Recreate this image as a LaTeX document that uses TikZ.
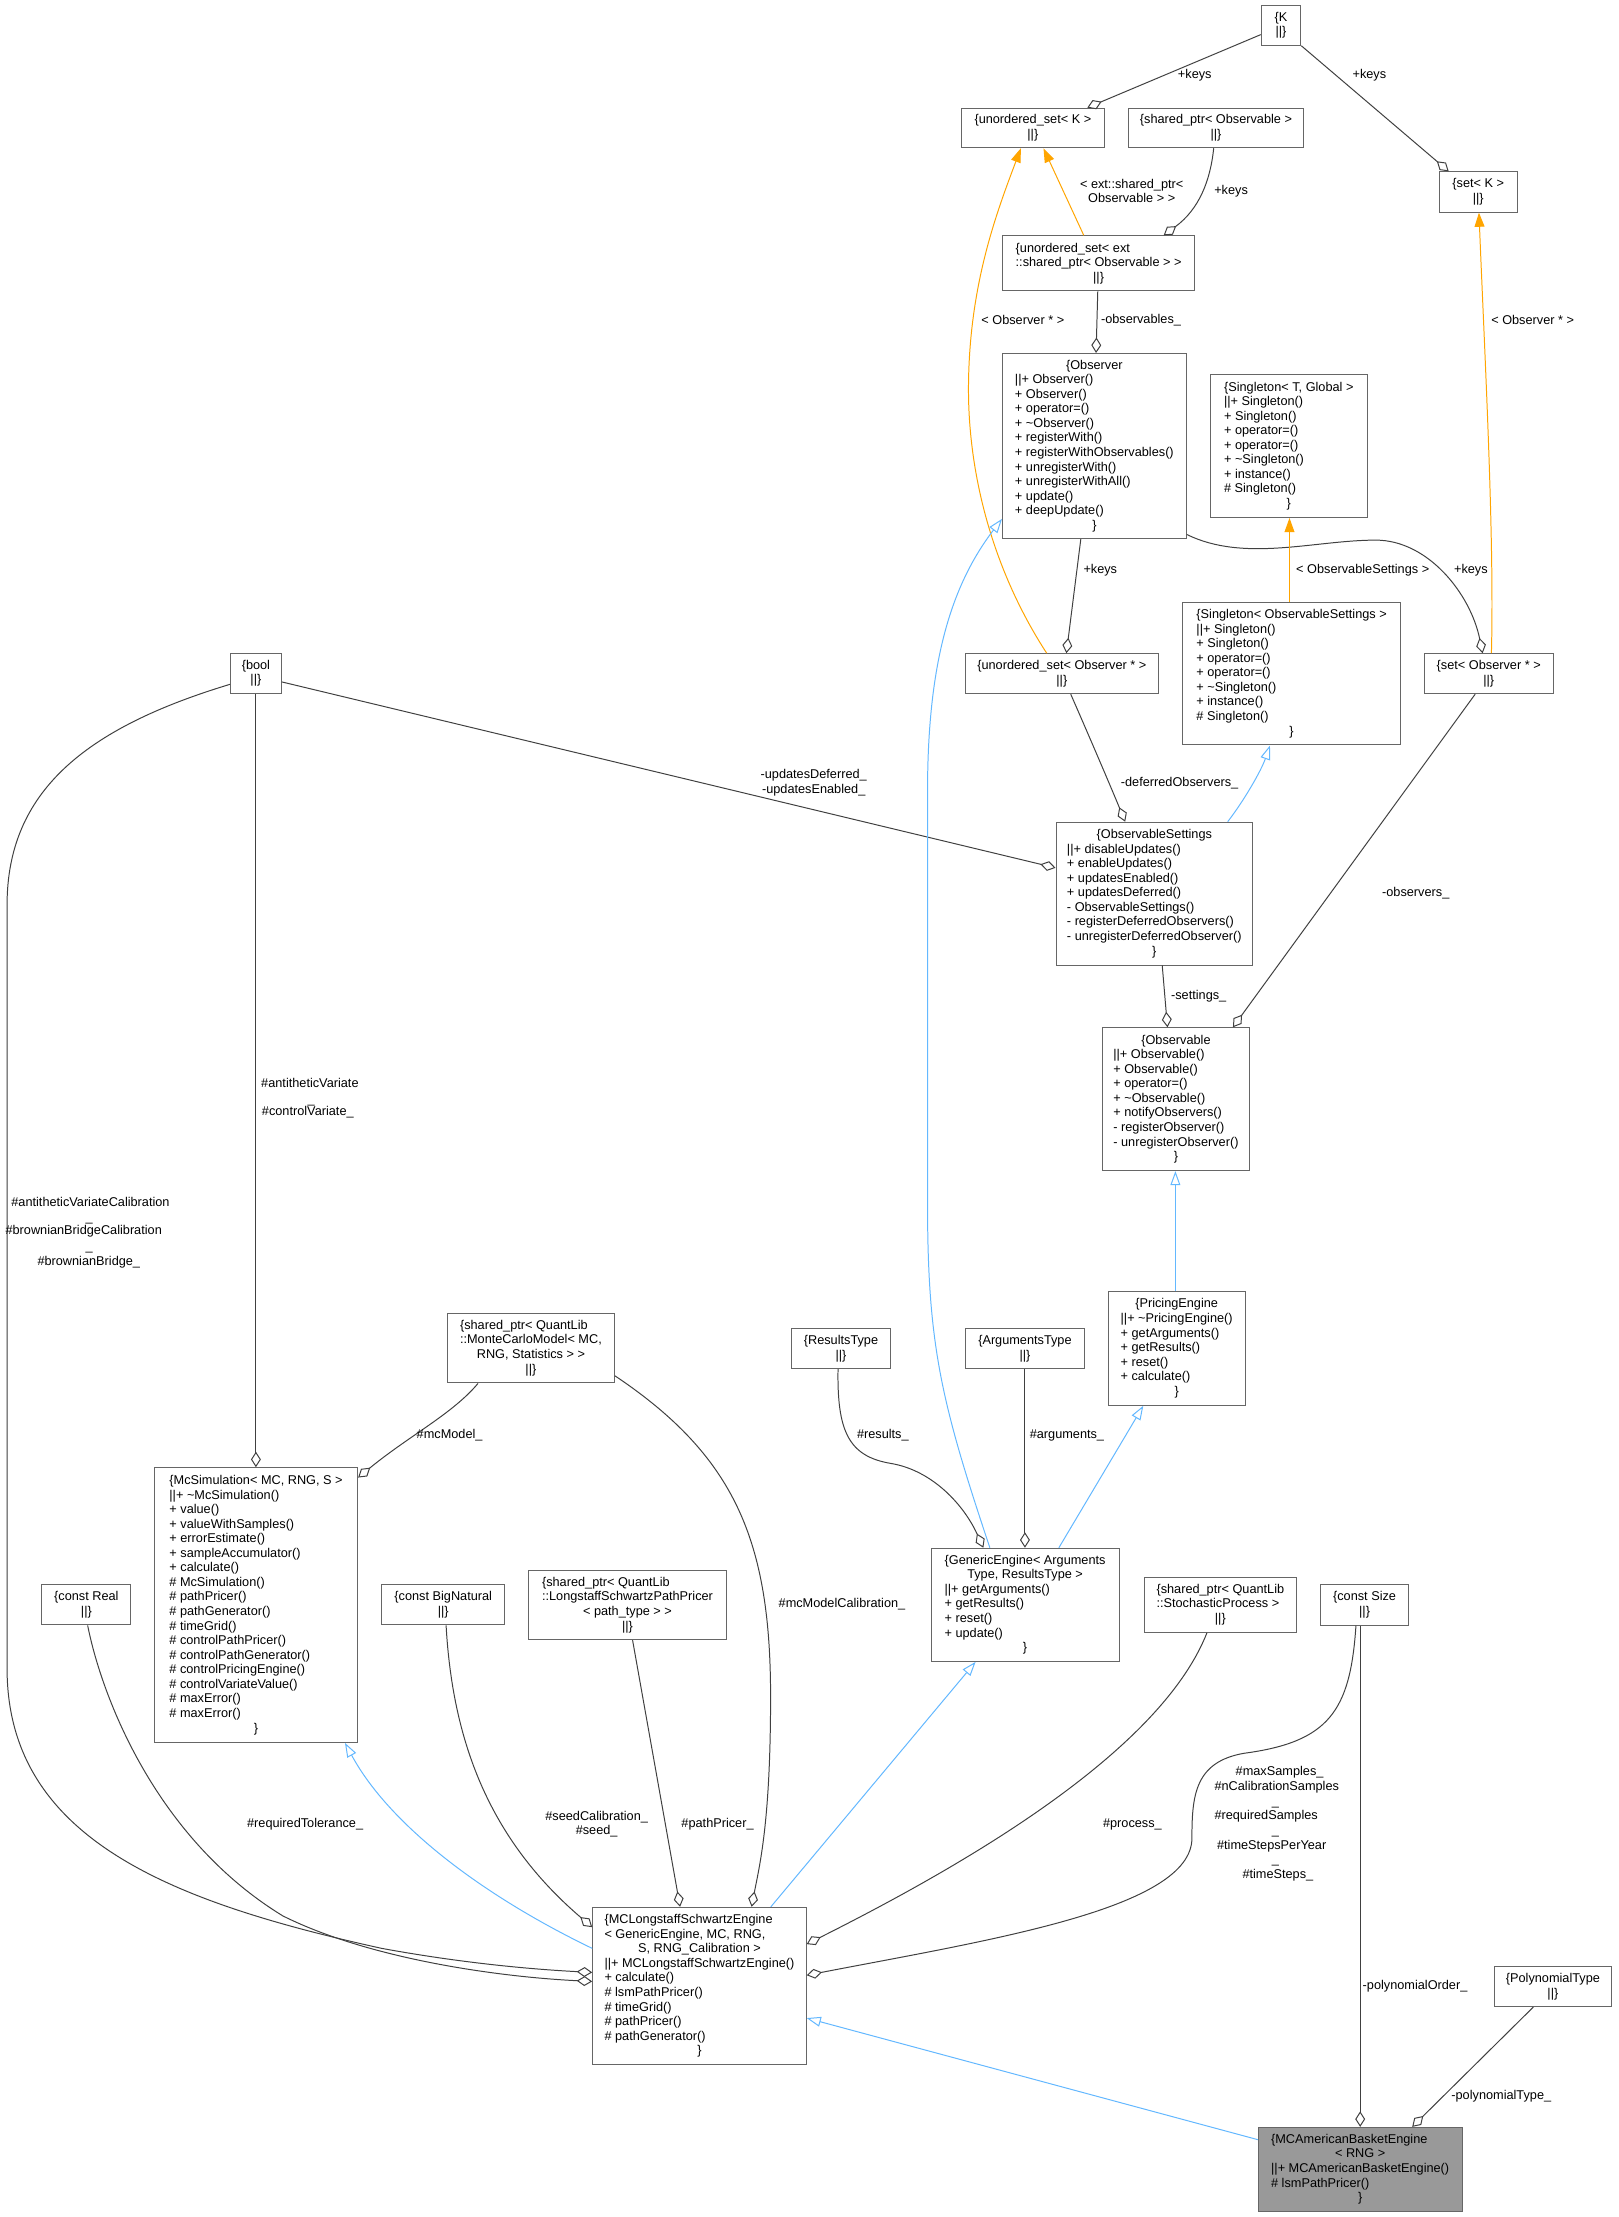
\documentclass[tikz,border=0pt]{standalone}
\usepackage{fontspec}
\setmainfont{Liberation Sans}
\usetikzlibrary{arrows.meta,calc}
\definecolor{dxgray}{HTML}{666666}
\definecolor{dxedge}{HTML}{404040}
\definecolor{dxblue}{HTML}{63B8FF}
\definecolor{dxorange}{HTML}{FFA500}
\definecolor{dxfill}{HTML}{999999}
\newcommand{\dxfont}{\fontsize{9}{10.3}\selectfont
  \setbox\strutbox\hbox{\vrule height 7.4pt depth 2.9pt width 0pt}}
\newcommand{\crow}[1]{\multicolumn{1}{@{}c@{}}{#1}}
\newcommand{\recl}[1]{\begin{tabular}{@{}l@{}}#1\end{tabular}}
\newcommand{\recc}[1]{\begin{tabular}{@{}c@{}}#1\end{tabular}}

\begin{document}
\begin{tikzpicture}[x=1pt, y=-1pt, font=\dxfont,
  cls/.style 2 args={draw=dxgray, line width=0.7pt, fill=white, inner sep=0pt,
    minimum width=#1pt, minimum height=#2pt},
  agg/.style={dxedge, line width=0.7pt, -{Diamond[open,length=11pt,width=7pt]}},
  inh/.style={dxblue, line width=0.7pt, -{Triangle[open,length=10pt,width=7pt]}},
  tpl/.style={dxorange, line width=0.7pt, -{Triangle[length=10pt,width=7pt]}},
  lbl/.style={inner sep=0pt, align=center}]
  \path[use as bounding box, fill=white] (0,0) rectangle (1145,1568);
  % class boxes, centre and size in px of the reference
  \node[cls={28}{28}] (kk) at (906,18) {\recc{\{K\\||\}}};
  \node[cls={101}{28}] (uK) at (730.5,90.5) {\recc{\{unordered\_set< K >\\||\}}};
  \node[cls={124}{28}] (spObs) at (860,90.5) {\recc{\{shared\_ptr< Observable >\\||\}}};
  \node[cls={55}{28.5}] (setK) at (1045.5,135.8) {\recc{\{set< K >\\||\}}};
  \node[cls={136}{39}] (uext) at (777,186.3)
    {\recl{\{unordered\_set< ext\\::shared\_ptr< Observable > >\\\crow{||\}}}};
  \node[cls={130}{131}] (observer) at (774,315.5)
    {\recl{\crow{\{Observer}\\||+ Observer()\\+ Observer()\\+ operator=()\\
      + \textasciitilde Observer()\\+ registerWith()\\+ registerWithObservables()\\
      + unregisterWith()\\+ unregisterWithAll()\\+ update()\\+ deepUpdate()\\\crow{\}}}};
  \node[cls={111}{101}] (singTG) at (911.5,315.5)
    {\recl{\crow{\{Singleton< T, Global >}\\||+ Singleton()\\+ Singleton()\\
      + operator=()\\+ operator=()\\+ \textasciitilde Singleton()\\+ instance()\\
      \# Singleton()\\\crow{\}}}};
  \node[cls={154}{101}] (singOS) at (913.5,476.4)
    {\recl{\crow{\{Singleton< ObservableSettings >}\\||+ Singleton()\\+ Singleton()\\
      + operator=()\\+ operator=()\\+ \textasciitilde Singleton()\\+ instance()\\
      \# Singleton()\\\crow{\}}}};
  \node[cls={136.5}{28.3}] (uObs) at (751,476.5)
    {\recc{\{unordered\_set< Observer * >\\||\}}};
  \node[cls={91}{28.3}] (setObs) at (1052.9,476.5) {\recc{\{set< Observer * >\\||\}}};
  \node[cls={36}{28.4}] (bool) at (181,476.2) {\recc{\{bool\\||\}}};
  \node[cls={139}{101}] (obsSet) at (816.4,632)
    {\recl{\crow{\{ObservableSettings}\\||+ disableUpdates()\\+ enableUpdates()\\
      + updatesEnabled()\\+ updatesDeferred()\\- ObservableSettings()\\
      - registerDeferredObservers()\\- unregisterDeferredObserver()\\\crow{\}}}};
  \node[cls={104.5}{101}] (observable) at (831.7,777.4)
    {\recl{\crow{\{Observable}\\||+ Observable()\\+ Observable()\\+ operator=()\\
      + \textasciitilde Observable()\\+ notifyObservers()\\- registerObserver()\\
      - unregisterObserver()\\\crow{\}}}};
  \node[cls={96.7}{80.4}] (pricing) at (832.2,953.7)
    {\recl{\crow{\{PricingEngine}\\||+ \textasciitilde PricingEngine()\\+ getArguments()\\
      + getResults()\\+ reset()\\+ calculate()\\\crow{\}}}};
  \node[cls={70.5}{28.5}] (results) at (594.8,953.8) {\recc{\{ResultsType\\||\}}};
  \node[cls={83.8}{28.5}] (args) at (724.9,953.8) {\recc{\{ArgumentsType\\||\}}};
  \node[cls={118}{49.3}] (spMC) at (375.5,953.4)
    {\recl{\{shared\_ptr< QuantLib\\::MonteCarloModel< MC,\\
      \crow{RNG, Statistics > >}\\\crow{||\}}}};
  \node[cls={143.7}{194.3}] (mcsim) at (181.1,1135.2)
    {\recl{\crow{\{McSimulation< MC, RNG, S >}\\||+ \textasciitilde McSimulation()\\
      + value()\\+ valueWithSamples()\\+ errorEstimate()\\+ sampleAccumulator()\\
      + calculate()\\\# McSimulation()\\\# pathPricer()\\\# pathGenerator()\\
      \# timeGrid()\\\# controlPathPricer()\\\# controlPathGenerator()\\
      \# controlPricingEngine()\\\# controlVariateValue()\\\# maxError()\\
      \# maxError()\\\crow{\}}}};
  \node[cls={133}{80}] (generic) at (725,1135)
    {\recl{\crow{\{GenericEngine< Arguments}\\\crow{Type, ResultsType >}\\
      ||+ getArguments()\\+ getResults()\\+ reset()\\+ update()\\\crow{\}}}};
  \node[cls={63}{28.5}] (cReal) at (61.1,1135) {\recc{\{const Real\\||\}}};
  \node[cls={87}{28.5}] (cBig) at (313.5,1135) {\recc{\{const BigNatural\\||\}}};
  \node[cls={139.7}{49}] (spLS) at (443.8,1135.2)
    {\recl{\{shared\_ptr< QuantLib\\::LongstaffSchwartzPathPricer\\
      \crow{< path\_type > >}\\\crow{||\}}}};
  \node[cls={108}{39}] (spSP) at (863.1,1135)
    {\recl{\{shared\_ptr< QuantLib\\::StochasticProcess >\\\crow{||\}}}};
  \node[cls={62.5}{28.5}] (cSize) at (965.1,1135.2) {\recc{\{const Size\\||\}}};
  \node[cls={83}{28.2}] (polyT) at (1098.3,1405) {\recc{\{PolynomialType\\||\}}};
  \node[cls={151}{111.3}] (mcls) at (494.7,1404.6)
    {\recl{\{MCLongstaffSchwartzEngine\\< GenericEngine, MC, RNG,\\
      \crow{S, RNG\_Calibration >}\\||+ MCLongstaffSchwartzEngine()\\+ calculate()\\
      \# lsmPathPricer()\\\# timeGrid()\\\# pathPricer()\\\# pathGenerator()\\\crow{\}}}};
  \node[cls={144}{59.4}, fill=dxfill] (mcam) at (962,1534.3)
    {\recl{\{MCAmericanBasketEngine\\\crow{< RNG >}\\||+ MCAmericanBasketEngine()\\
      \# lsmPathPricer()\\\crow{\}}}};
  % connectors
  \draw[agg] (kk.west |- 0,24.5) -- (uK.north -| 769,0);
  \draw[agg] (kk.south east) -- (setK.north -| 1024.6,0);
  \draw[agg] (spObs.south -| 858.4,0) .. controls (856,128) and (848,148) .. (uext.north -| 823,0);
  \draw[tpl] (uext.north -| 766.5,0) -- (uK.south -| 738,0);
  \draw[agg] (uext.south -| 776.4,0) -- (observer.north -| 775.2,0);
  \draw[tpl] (uObs.north -| 740.3,0) .. controls (700,400) and (684,330) .. (685,270)
    .. controls (686,200) and (705,150) .. (uK.south -| 722,0);
  \draw[tpl] (setObs.north -| 1054.8,0) .. controls (1057,380) and (1050,250) .. (setK.south -| 1046,0);
  \draw[agg] (observer.south -| 764.4,0) -- (uObs.north -| 754.2,0);
  \draw[agg] (observer.east |- 0,378) .. controls (880,398) and (930,382) .. (973,382)
    .. controls (1010,382) and (1040,420) .. (setObs.north -| 1048.6,0);
  \draw[tpl] (singOS.north -| 912,0) -- (singTG.south -| 912,0);
  \draw[agg] (uObs.south -| 757.3,0) .. controls (770,520) and (785,555) .. (obsSet.north -| 795.8,0);
  \draw[inh] (obsSet.north -| 868.3,0) .. controls (880,566) and (892,545) .. (singOS.south -| 898.2,0);
  \draw[agg] (bool.east |- 0,482.3) -- (obsSet.west |- 0,613.8);
  \draw[agg] (setObs.south -| 1043.3,0) -- (observable.north -| 872,0);
  \draw[agg] (obsSet.south -| 822,0) -- (observable.north -| 825.7,0);
  \draw[inh] (pricing.north -| 831.3,0) -- (observable.south -| 831.3,0);
  \draw[inh] (generic.north -| 700.1,0) .. controls (665,990) and (656,950) .. (656,850)
    -- (656,560) .. controls (656,470) and (672,415) .. (observer.west |- 0,367);
  \draw[inh] (generic.north -| 748.9,0) -- (pricing.south -| 808.6,0);
  \draw[agg] (results.south -| 592.7,0) .. controls (592,1012) and (600,1030) .. (630,1035)
    .. controls (660,1040) and (682,1065) .. (generic.north -| 695.5,0);
  \draw[agg] (args.south) -- (args.south |- generic.north);
  \draw[agg] (spMC.south -| 338.1,0) .. controls (320,1000) and (290,1015) .. (mcsim.east |- 0,1045);
  \draw[agg] (spMC.east |- 0,973) .. controls (520,1030) and (545,1090) .. (545,1200)
    .. controls (545,1290) and (537,1320) .. (mcls.north -| 531.6,0);
  \draw[agg] (bool.south) -- (bool.south |- mcsim.north);
  \draw[agg] (bool.west |- 0,484) .. controls (60,515) and (5,560) .. (5,640) -- (5,1180)
    .. controls (5,1300) and (120,1345) .. (270,1378)
    .. controls (330,1389) and (380,1393) .. (mcls.west |- 0,1395);
  \draw[agg] (cReal.south -| 62,0) .. controls (72,1200) and (110,1300) .. (200,1355)
    .. controls (260,1385) and (350,1398) .. (mcls.west |- 0,1401.4);
  \draw[agg] (cBig.south -| 315.5,0) .. controls (320,1230) and (345,1300) .. (mcls.west |- 0,1363);
  \draw[agg] (spLS.south -| 447.4,0) -- (mcls.north -| 481,0);
  \draw[inh] (mcls.west |- 0,1378) .. controls (340,1340) and (275,1290) .. (mcsim.south -| 244,0);
  \draw[inh] (mcls.north -| 545.2,0) -- (generic.south -| 690,0);
  \draw[agg] (spSP.south -| 853.6,0) .. controls (820,1240) and (680,1320) .. (mcls.east |- 0,1375);
  \draw[agg] (cSize.south -| 959,0) .. controls (955,1210) and (940,1232) .. (880,1240)
    .. controls (845,1246) and (843,1270) .. (843,1300)
    .. controls (843,1350) and (700,1372) .. (mcls.east |- 0,1397);
  \draw[agg] (cSize.south -| 962,0) -- (mcam.north -| 962,0);
  \draw[agg] (polyT.south -| 1084.5,0) -- (mcam.north -| 998.8,0);
  \draw[inh] (mcam.west |- 0,1513.3) -- (mcls.east |- 0,1427.3);
  % connector labels
  \node[lbl] (lkeysa) at (845,53.5) {+keys};
  \node[lbl] (lkeysb) at (968.5,53.5) {+keys};
  \node[lbl] (lkeysc) at (870.7,135) {+keys};
  \node[lbl] (lext) at (800.4,134.9) {< ext::shared\_ptr<\\Observable > >};
  \node[lbl] (lobsvbs) at (807,226.5) {-observables\_};
  \node[lbl] (lobsa) at (723.4,226.5) {< Observer * >};
  \node[lbl] (lobsb) at (1084,226.5) {< Observer * >};
  \node[lbl] (lkeysd) at (778.2,403.6) {+keys};
  \node[lbl] (lkeyse) at (1040.3,403.6) {+keys};
  \node[lbl] (lsingos) at (963.8,403.6) {< ObservableSettings >};
  \node[lbl] (ldefer) at (834.3,553.7) {-deferredObservers\_};
  \node[lbl] (lupd) at (575.5,553.5) {-updatesDeferred\_\\-updatesEnabled\_};
  \node[lbl] (lobsrs) at (1001.3,631.6) {-observers\_};
  \node[lbl] (lsett) at (847.8,704.4) {-settings\_};
  \node[lbl] (lanti) at (219.2,766) {\#antitheticVariate};
  \node[lbl] (lctrl) at (217.7,786.7) {\#controlVariate\_};
  \node[lbl] (lctrlu) at (220,781) {\_};
  \node[lbl] (lantic) at (64,850) {\#antitheticVariateCalibration};
  \node[lbl] (lanticu) at (63,865) {\_};
  \node[lbl] (lbbc) at (59.2,871) {\#brownianBridgeCalibration};
  \node[lbl] (lbbcu) at (63,885.5) {\_};
  \node[lbl] (lbb) at (62.8,892.6) {\#brownianBridge\_};
  \node[lbl] (lmcm) at (318,1015) {\#mcModel\_};
  \node[lbl] (lres) at (624.4,1015.3) {\#results\_};
  \node[lbl] (larg) at (754.6,1015.3) {\#arguments\_};
  \node[lbl] (lmcmc) at (595.5,1134.6) {\#mcModelCalibration\_};
  \node[lbl] (ltol) at (215.8,1290.3) {\#requiredTolerance\_};
  \node[lbl] (lseed) at (422,1290) {\#seedCalibration\_\\\#seed\_};
  \node[lbl] (lpp) at (507.5,1290.3) {\#pathPricer\_};
  \node[lbl] (lproc) at (800.9,1290.6) {\#process\_};
  \node[lbl] (lmax) at (905,1253.4) {\#maxSamples\_};
  \node[lbl] (lncal) at (903,1264) {\#nCalibrationSamples};
  \node[lbl] (lncalu) at (902,1277.6) {\_};
  \node[lbl] (lreq) at (895.5,1284.7) {\#requiredSamples};
  \node[lbl] (lrequ) at (902,1298.1) {\_};
  \node[lbl] (ltspy) at (899.4,1306) {\#timeStepsPerYear};
  \node[lbl] (ltspyu) at (902,1318.9) {\_};
  \node[lbl] (lts) at (903.8,1326) {\#timeSteps\_};
  \node[lbl] (lpord) at (1000.8,1404.9) {-polynomialOrder\_};
  \node[lbl] (lptyp) at (1061.8,1482.7) {-polynomialType\_};
\end{tikzpicture}
\end{document}
